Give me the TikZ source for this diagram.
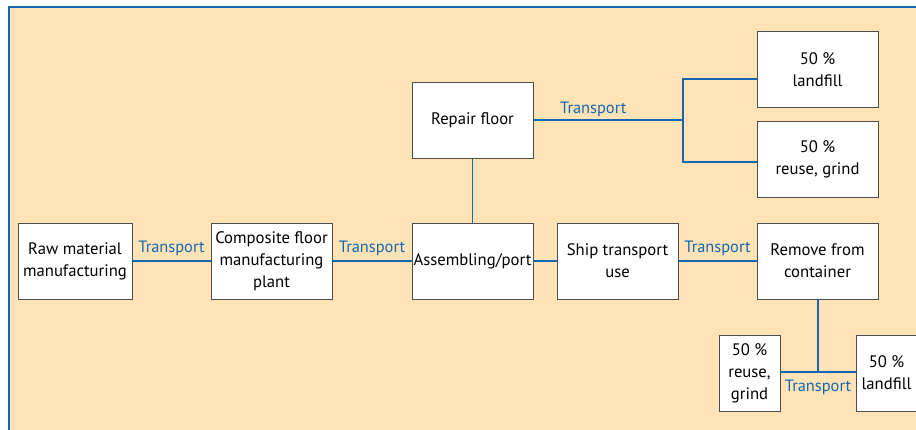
\documentclass[tikz,border=0pt]{standalone}
\usepackage{fontspec}
\setmainfont{PT Sans}
\usetikzlibrary{positioning, calc}
\definecolor{cream}{HTML}{FDE3B6}
\definecolor{flowblue}{HTML}{1766B1}
\definecolor{boxgray}{HTML}{4D4D4D}

\begin{document}
\begin{tikzpicture}[x=0.75pt,y=-0.75pt,
  box/.style={draw=boxgray, line width=0.6pt, fill=white, align=center,
    minimum width=90.75pt, minimum height=57pt, inner sep=1pt,
    font=\fontsize{12.5}{16.5}\selectfont},
  smallbox/.style={box, minimum width=45.75pt},
  link/.style={draw=flowblue, line width=1.1pt},
  tlabel/.style={text=flowblue, inner sep=2pt, font=\fontsize{12.3}{14}\selectfont}]
  \useasboundingbox (0,0) rectangle (916,429);
  \clip (0,0) rectangle (916,429);
  % background
  \fill[cream] (9,7) rectangle (940,450);
  \draw[flowblue, line width=1.2pt] (9,450) -- (9,7) -- (940,7);
  % main chain
  \node[box, minimum width=85.5pt] (raw) at (75,261) {Raw material\\manufacturing};
  \node[box] (comp) at (271.5,261) {Composite floor\\manufacturing\\plant};
  \node[box] (asm) at (472.5,261) {Assembling/port};
  \node[box] (ship) at (617.5,261) {Ship transport\\use};
  \node[box] (remove) at (817.5,261) {Remove from\\container};
  \draw[link] (raw) -- node[above, tlabel, yshift=1.5pt]{Transport} (comp);
  \draw[link] (comp) -- node[above, tlabel, yshift=1.5pt]{Transport} (asm);
  \draw[link] (asm) -- (ship);
  \draw[link] (ship) -- node[above, tlabel, yshift=1.5pt]{Transport} (remove);
  % repair branch
  \node[box] (repair) at (472.5,120) {Repair floor};
  \node[box] (landA) at (817.5,69.5) {50 \%\\landfill};
  \node[box] (reuseA) at (817.5,159.5) {50 \%\\reuse, grind};
  \coordinate (split) at (683,120);
  \draw[link] (repair) -- (asm);
  \draw[link] (repair) -- node[above, tlabel, pos=0.4]{Transport} (split);
  \draw[link] ([yshift=-7.1pt]landA.west) -| (split) |- ([yshift=-1.7pt]reuseA.west);
  % end of use
  \node[smallbox] (reuseB) at (749.5,373) {50 \%\\reuse,\\grind};
  \node[smallbox] (landB) at (886.5,373) {50 \%\\landfill};
  \coordinate (junc) at (818,372);
  \draw[link] (remove.south -| junc) -- (junc);
  \draw[link] (reuseB.east |- junc) -- node[below, tlabel, yshift=-3.5pt]{Transport} (landB.west |- junc);
\end{tikzpicture}
\end{document}
